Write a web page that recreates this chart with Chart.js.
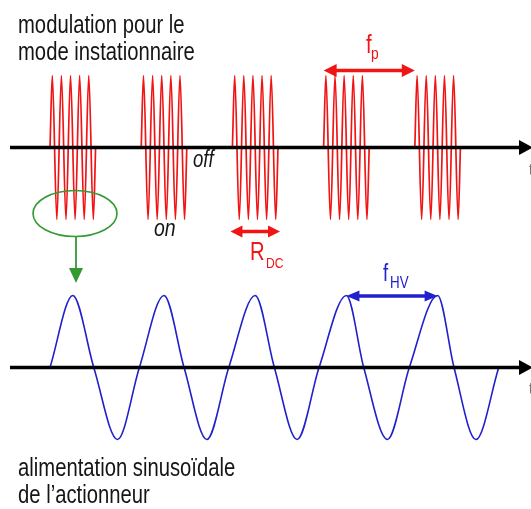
<!DOCTYPE html>
<html>
<head>
<meta charset="utf-8">
<script src="https://cdn.jsdelivr.net/npm/chart.js@4.4.1/dist/chart.umd.min.js"></script>
<style>
  html, body { margin: 0; padding: 0; background: #fff; }
  #wrap { width: 531px; height: 509px; }
</style>
</head>
<body>
<div id="wrap"><canvas id="chart" width="531" height="509"></canvas></div>
<script>
// time unit = one modulation period (f_p)
const burstStarts = [0, 1, 2, 3, 4];
const carrierT = [0, 0.025, 0.075, 0.125, 0.175, 0.225, 0.275, 0.325, 0.375, 0.425, 0.475, 0.5];
const carrierV = [0, 1, -1, 1, -1, 1, -1, 1, -1, 1, -1, 0];

const hvT = [0, 0.25, 0.48, 0.74, 0.98, 1.25, 1.47, 1.72, 1.96, 2.25, 2.46, 2.71, 2.95, 3.25, 3.44, 3.7, 3.94, 4.25, 4.43, 4.67, 4.92];
const hvV = [0, 1, 0, -1, 0, 1, 0, -1, 0, 1, 0, -1, 0, 1, 0, -1, 0, 1, 0, -1, 0];

const topLabel = ["modulation pour le", "mode instationnaire"];
const bottomLabel = ["alimentation sinusoïdale", "de l’actionneur"];

// no narrow face installed, so text is squeezed horizontally
const FONT = "'Liberation Sans', Arial, sans-serif";
const NARROW = 0.81;
const RED = "#f01414";
const BLUE = "#2020cc";
const GREEN = "#339933";
const INK = "#151515";

const burstSets = burstStarts.map((t0) => ({
  data: carrierT.map((t, i) => ({ x: t0 + t, y: carrierV[i] })),
  yAxisID: "yMod",
  borderColor: RED,
  borderWidth: 1.7,
  pointRadius: 0,
  cubicInterpolationMode: "monotone",
}));

const hvSet = {
  data: hvT.map((t, i) => ({ x: t, y: hvV[i] })),
  yAxisID: "yHV",
  borderColor: BLUE,
  borderWidth: 1.6,
  pointRadius: 0,
  cubicInterpolationMode: "monotone",
};

function text(ctx, str, x, y, size, color, style) {
  ctx.save();
  ctx.fillStyle = color;
  ctx.textAlign = "left";
  ctx.textBaseline = "alphabetic";
  ctx.font = (style ? style + " " : "") + size + "px " + FONT;
  ctx.translate(x, y);
  ctx.scale(NARROW, 1);
  ctx.fillText(str, 0, 0);
  ctx.restore();
}

function axisArrow(ctx, y) {
  ctx.strokeStyle = "#000";
  ctx.fillStyle = "#000";
  ctx.lineWidth = 3.5;
  ctx.beginPath();
  ctx.moveTo(10, y);
  ctx.lineTo(522, y);
  ctx.stroke();
  ctx.beginPath();
  ctx.moveTo(519, y - 7.5);
  ctx.lineTo(533, y);
  ctx.lineTo(519, y + 7.5);
  ctx.closePath();
  ctx.fill();
}

function doubleArrow(ctx, x1, x2, y, color, len, half) {
  ctx.strokeStyle = color;
  ctx.fillStyle = color;
  ctx.lineWidth = 3.5;
  ctx.beginPath();
  ctx.moveTo(x1 + len - 1, y);
  ctx.lineTo(x2 - len + 1, y);
  ctx.stroke();
  ctx.beginPath();
  ctx.moveTo(x1, y);
  ctx.lineTo(x1 + len, y - half);
  ctx.lineTo(x1 + len, y + half);
  ctx.closePath();
  ctx.fill();
  ctx.beginPath();
  ctx.moveTo(x2, y);
  ctx.lineTo(x2 - len, y - half);
  ctx.lineTo(x2 - len, y + half);
  ctx.closePath();
  ctx.fill();
}

const annotations = {
  id: "annotations",
  afterDatasetsDraw(chart) {
    const { ctx } = chart;
    const { x, yMod, yHV } = chart.scales;
    const y0Mod = yMod.getPixelForValue(0);
    const y0HV = yHV.getPixelForValue(0);
    ctx.save();

    text(ctx, topLabel[0], 18, 33, 25, INK);
    text(ctx, topLabel[1], 18, 60, 25, INK);
    text(ctx, bottomLabel[0], 18, 476, 25, INK);
    text(ctx, bottomLabel[1], 18, 503, 25, INK);

    axisArrow(ctx, y0Mod);
    axisArrow(ctx, y0HV);
    text(ctx, "t", 529, y0Mod + 27, 16, "#777");
    text(ctx, "t", 529, y0HV + 27, 16, "#777");

    // f_p : one modulation period
    doubleArrow(ctx, x.getPixelForValue(3), x.getPixelForValue(4), 70.5, RED, 13, 6.5);
    text(ctx, "f", 366, 53, 25, RED);
    text(ctx, "p", 371, 59, 17, RED);

    // R_DC : burst duration
    doubleArrow(ctx, x.getPixelForValue(2) - 2, x.getPixelForValue(2.5) + 2, 231.5, RED, 12, 6);
    text(ctx, "R", 250, 260, 25, RED);
    text(ctx, "DC", 266, 268, 15, RED);

    // f_HV : sine period, peak to peak
    doubleArrow(ctx, x.getPixelForValue(3.25), x.getPixelForValue(4.25), 296, BLUE, 13, 5.5);
    text(ctx, "f", 383, 281, 23, BLUE);
    text(ctx, "HV", 390, 288, 16.5, BLUE);

    text(ctx, "off", 193, 167, 23, INK, "italic");
    text(ctx, "on", 154, 236, 24, INK, "italic");

    // green marker on the first burst
    ctx.strokeStyle = GREEN;
    ctx.fillStyle = GREEN;
    ctx.lineWidth = 1.6;
    ctx.beginPath();
    ctx.ellipse(75, 213.5, 42, 23, 0, 0, Math.PI * 2);
    ctx.stroke();
    ctx.lineWidth = 1.8;
    ctx.beginPath();
    ctx.moveTo(76, 236.5);
    ctx.lineTo(76, 270);
    ctx.stroke();
    ctx.beginPath();
    ctx.moveTo(69, 268);
    ctx.lineTo(83, 268);
    ctx.lineTo(76, 283);
    ctx.closePath();
    ctx.fill();

    ctx.restore();
  },
};

new Chart(document.getElementById("chart"), {
  type: "line",
  data: { datasets: [...burstSets, hvSet] },
  options: {
    responsive: false,
    animation: false,
    events: [],
    layout: { padding: { left: 18, right: 0, top: 63, bottom: 57 } },
    scales: {
      x: { type: "linear", display: false, min: -0.351, max: 5.274 },
      yMod: { type: "linear", display: false, position: "left", stack: "sig", stackWeight: 1, weight: 1, min: -1.528, max: 1.174 },
      yHV: { type: "linear", display: false, position: "left", stack: "sig", stackWeight: 1, weight: 0, min: -1.174, max: 1.528 },
    },
    plugins: {
      legend: { display: false },
      tooltip: { enabled: false },
    },
  },
  plugins: [annotations],
});
</script>
</body>
</html>
